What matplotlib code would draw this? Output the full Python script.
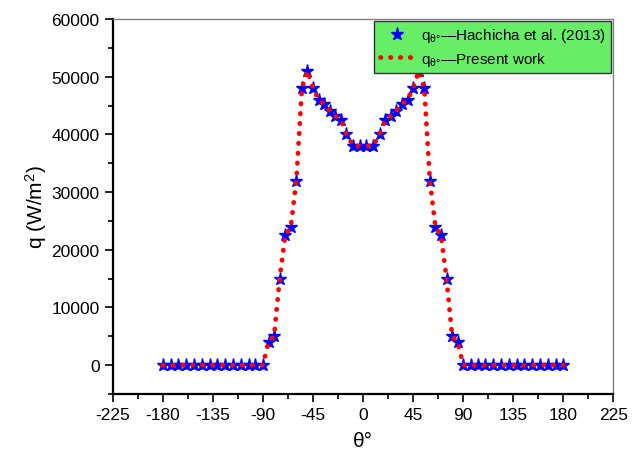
import numpy as np
import matplotlib
matplotlib.use("Agg")
import matplotlib.pyplot as plt
from matplotlib.ticker import MultipleLocator

plt.rcParams['font.family'] = ['Liberation Sans', 'DejaVu Sans']
plt.rcParams['mathtext.fontset'] = 'custom'
plt.rcParams['mathtext.rm'] = 'Liberation Sans'
plt.rcParams['mathtext.it'] = 'Liberation Sans'
plt.rcParams['axes.unicode_minus'] = False

# angular positions (deg) and heat flux (W/m2)
theta = [-180, -173, -166, -159, -152, -145, -138, -131, -124, -117, -110, -103, -97, -90,
         -85, -80, -75, -70, -65, -60, -55, -50, -45, -40, -35, -30, -25, -20, -15,
         -9, -3, 3, 9,
         15, 20, 25, 30, 35, 40, 45, 50, 55, 60, 65, 70, 75, 80, 85,
         90, 97, 103, 110, 117, 124, 131, 138, 145, 152, 159, 166, 173, 180]

q_hachicha = [0, 0, 0, 0, 0, 0, 0, 0, 0, 0, 0, 0, 0, 0,
              4000, 5000, 15000, 22500, 24000, 32000, 48000, 51000, 48000, 46000, 45300, 44100, 43200, 42500, 40100,
              38000, 38000, 38000, 38000,
              40100, 42500, 43200, 44100, 45300, 46000, 48000, 51000, 48000, 32000, 24000, 22500, 15000, 5000, 4000,
              0, 0, 0, 0, 0, 0, 0, 0, 0, 0, 0, 0, 0, 0]

q_present = list(q_hachicha)

fig = plt.figure(figsize=(6.39, 4.60), dpi=100)
ax = fig.add_axes([0.1765, 0.1413, 0.7835, 0.8152])

ax.plot(theta, q_hachicha, linestyle='none', marker='*', color='#0000ff',
        markersize=9.5, label=r'q$_{\theta\degree}$—Hachicha et al. (2013)', zorder=2)
ax.plot(theta, q_present, linestyle=(0, (0.1, 2.0)), color='#ff0000', linewidth=3.4,
        dash_capstyle='round', label=r'q$_{\theta\degree}$—Present work', zorder=3)

ax.set_xlim(-225, 225)
ax.set_ylim(-5000, 60000)
ax.xaxis.set_major_locator(MultipleLocator(45))
ax.xaxis.set_minor_locator(MultipleLocator(22.5))
ax.yaxis.set_major_locator(MultipleLocator(10000))
ax.yaxis.set_minor_locator(MultipleLocator(5000))

ax.tick_params(which='both', direction='out', top=False, right=False, labelsize=12.5, width=1.2)
ax.tick_params(which='major', length=6)
ax.tick_params(which='minor', length=3.5)

for side in ('left', 'bottom'):
    ax.spines[side].set_linewidth(1.6)
    ax.spines[side].set_color('black')
for side in ('top', 'right'):
    ax.spines[side].set_linewidth(1.0)
    ax.spines[side].set_color('#808080')

ax.set_xlabel('θ°', fontsize=15, labelpad=6)
ax.set_ylabel('q (W/m$^2$)', fontsize=15, labelpad=2)

leg = ax.legend(loc='upper right', bbox_to_anchor=(0.995, 0.995), fontsize=11,
                frameon=True, fancybox=False, framealpha=1, borderaxespad=0,
                handlelength=2.3, handletextpad=0.4, borderpad=0.35, labelspacing=0.35)
leg.get_frame().set_facecolor('#66ee66')
leg.get_frame().set_edgecolor('#333333')
leg.get_frame().set_linewidth(1.0)

fig.savefig('out.png', dpi=100)
